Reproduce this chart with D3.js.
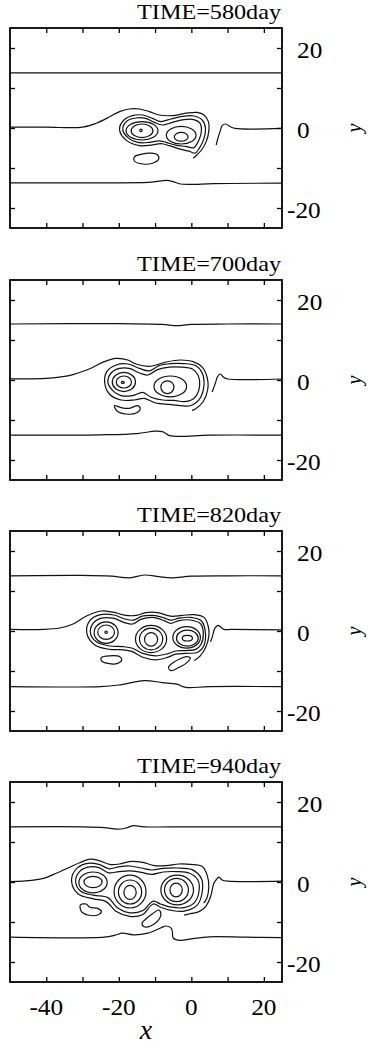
<!DOCTYPE html>
<html>
<head>
<meta charset="utf-8">
<script src="https://cdnjs.cloudflare.com/ajax/libs/d3/7.8.5/d3.min.js"></script>
<style>
body { margin: 0; background: #fff; }
text { font-family: "Liberation Serif", "Times New Roman", serif; fill: #000; }
</style>
</head>
<body>
<div id="chart"></div>
<script>

// axis ticks and labels
var times = ["580", "700", "820", "940"];
var xTicks = [-40, -30, -20, -10, 0, 10, 20];
var xLabels = [-40, -20, 0, 20];
var yTicks = [-20, -10, 0, 10, 20];
var yLabels = [-20, 0, 20];

// ---- TIME=580day ----
var top580 = [[-50,13.8],[25,13.8]];
var bottom580 = [[-50,-13.7],[-25,-13.7],[-12,-13.6],[-9,-13.3],[-7,-13.1],[-5,-13.4],[-3,-14.0],[0,-14.1],[6,-13.9],[25,-13.8]];
var zeroL580 = [[-50,0.2],[-40,0.2],[-30,0.2],[-26.2,1.2],[-22.5,2.8],[-19.8,4.1],[-17.1,4.75],[-14.3,4.75],[-11.6,4.1],[-8.9,3.25],[-5.2,3.1],[-1.5,3.7],[1.6,3.9],[3.5,3.25],[4.7,1.6],[4.8,-0.9],[4.1,-3.4],[2.8,-5.5],[1.2,-7.0],[0.5,-7.6]];
var zeroR580 = [[25,-0.1],[12.1,-0.1],[10.8,0.33],[9.4,1.0],[8.5,0.6],[7.9,-0.9],[7.2,-3.0],[6.85,-4.25]];
var outer580 = [[-19.8,-0.4],[-18.6,2.0],[-16.2,3.1],[-13.4,3.25],[-10.7,2.4],[-8.4,1.6],[-5.7,2.25],[-2.5,2.9],[0.7,3.0],[3.0,2.0],[3.9,-0.1],[3.5,-2.6],[2.3,-4.9],[1.0,-6.3],[-0.6,-5.8],[-3.4,-5.2],[-6.1,-4.4],[-8.4,-3.9],[-11.1,-4.3],[-14.3,-4.4],[-17.9,-3.1]];
var inner580 = [[-18.9,-0.4],[-17.8,1.7],[-15.3,2.5],[-12.6,2.4],[-10.2,1.4],[-8.0,0.75],[-5.2,1.4],[-2.0,2.1],[0.7,2.1],[2.4,1.2],[2.8,-0.5],[2.1,-3.0],[0.7,-4.9],[-1.6,-4.6],[-4.3,-4.3],[-7.0,-3.6],[-8.9,-3.2],[-11.6,-3.6],[-14.8,-3.6],[-17.5,-2.4]];
var blob580 = [[-15.7,-7.2],[-13.9,-6.6],[-11.1,-6.3],[-9.3,-6.75],[-9.0,-7.75],[-10.7,-8.8],[-13.4,-9.0],[-15.7,-8.25]];
// vortex rings: centre x, centre y, radius x, radius y
var rings580 = [[-13.9,-0.6,0.35,0.3],[-13.6,-0.7,3.0,1.7],[-13.6,-0.7,4.4,2.3],[-2.8,-2.2,1.9,1.1],[-2.8,-1.8,4.1,2.2]];

// ---- TIME=700day ----
var top700 = [[-50,14.0],[-20,14.1],[-8,13.9],[-4,13.6],[0,13.9],[10,14.0],[25,14.0]];
var bottom700 = [[-50,-13.8],[-25,-13.7],[-15,-13.4],[-10,-12.8],[-8,-12.9],[-6,-13.9],[-3,-14.1],[5,-13.8],[25,-13.8]];
var zeroL700 = [[-50,0.3],[-40,0.4],[-33.7,1.1],[-28,2.8],[-24,4.6],[-20.8,5.4],[-17.5,5.0],[-15.3,4.0],[-11.6,3.4],[-7.0,4.5],[-3,5.0],[0.5,4.6],[3.0,3.2],[4.4,0.5],[4.5,-2.5],[3.2,-5.5],[1.0,-7.3],[0.2,-7.6]];
var zeroR700 = [[25,0.25],[10,0.25],[9,0.6],[8.0,1.5],[7.2,0.8],[6.7,-0.6],[5.75,-3.0]];
var outer700 = [[-23.9,-0.6],[-23.3,2.1],[-20.7,3.75],[-17.5,4.0],[-14.3,2.9],[-11.6,2.3],[-8.9,3.6],[-5.7,4.1],[-2.0,4.1],[1.2,3.6],[3.0,1.75],[3.5,-1.25],[2.6,-4.3],[1.0,-5.9],[-0.6,-6.5],[-2.9,-6.4],[-6.1,-6.1],[-9.8,-5.75],[-13.0,-4.6],[-15.7,-5.0],[-19.4,-5.0],[-22.6,-3.5]];
var inner700 = [[-23.0,-0.6],[-22.1,1.75],[-19.8,2.9],[-17.1,2.9],[-14.3,1.75],[-12.0,1.25],[-9.3,2.6],[-6.1,3.2],[-2.5,3.2],[0.3,2.75],[1.9,1.1],[2.3,-1.4],[1.4,-3.9],[0.0,-5.0],[-2.0,-5.4],[-4.75,-5.1],[-7.9,-5.0],[-11.1,-4.3],[-13.4,-3.1],[-16.2,-3.9],[-19.4,-3.9],[-21.6,-2.7]];
var blob700 = [[-21.2,-6.4],[-19.4,-6.9],[-17.1,-7.1],[-14.8,-6.4],[-14.1,-7.1],[-15.2,-8.25],[-18.0,-8.5],[-20.5,-7.75]];
var rings700 = [[-18.9,-0.6,0.4,0.25],[-18.6,-0.5,2.1,1.5],[-18.6,-0.5,3.2,2.4],[-6.6,-1.8,1.8,1.6],[-5.8,-1.6,4.5,2.6]];

// ---- TIME=820day ----
var top820 = [[-50,13.8],[-30,13.9],[-22,13.7],[-17,13.3],[-13,14.0],[-9,13.6],[-5.5,13.3],[0,13.7],[10,13.8],[25,13.8]];
var bottom820 = [[-50,-13.9],[-25,-13.9],[-20,-13.5],[-13,-12.4],[-8,-12.9],[-4,-13.3],[-1.5,-14.1],[5,-13.9],[25,-13.9]];
var zeroL820 = [[-50,0.4],[-40.8,0.4],[-36.3,0.75],[-32.6,1.75],[-28.9,3.75],[-24.8,5.0],[-21.6,4.7],[-18.0,3.9],[-15.2,3.9],[-12.5,4.6],[-9.3,4.6],[-5.7,3.7],[-2.5,3.9],[0.7,4.1],[3.5,3.4],[4.7,1.0],[4.8,-1.4],[4.0,-4.0],[2.4,-6.3],[0.8,-7.4]];
var zeroR820 = [[25,0.3],[11,0.4],[9,0.4],[7.4,1.4],[6.5,0.7],[5.8,-1.4],[5.3,-2.7]];
var outer820 = [[-28.8,-0.6],[-28.0,2.6],[-25.0,4.1],[-21.3,4.0],[-18.3,3.0],[-16.0,2.7],[-13.6,3.7],[-10.5,3.9],[-7.5,3.3],[-5.7,2.7],[-3.4,3.2],[-0.2,3.4],[2.8,2.5],[3.9,-0.6],[3.4,-3.8],[1.8,-5.3],[-1.5,-5.6],[-4.3,-5.8],[-6.6,-6.6],[-9.8,-7.2],[-13.6,-6.5],[-16.4,-5.1],[-18.9,-4.7],[-22.5,-4.6],[-26.6,-3.5]];
var inner820 = [[-27.8,-0.6],[-27.1,1.9],[-24.8,3.2],[-21.6,3.2],[-18.4,2.1],[-16.2,1.75],[-13.9,2.9],[-10.7,3.4],[-7.5,2.6],[-5.7,1.9],[-3.4,2.6],[-0.2,2.75],[2.6,1.75],[3.3,-0.6],[2.7,-3.3],[1.2,-4.6],[-1.6,-4.9],[-4.3,-5.0],[-6.6,-5.7],[-9.8,-6.2],[-13.4,-5.6],[-16.2,-4.3],[-18.9,-3.9],[-22.5,-3.75],[-26.2,-2.7]];
var blobL820 = [[-24.8,-6.6],[-22.5,-6.2],[-19.8,-6.4],[-19.2,-7.25],[-20.3,-8.1],[-23.0,-8.1],[-24.8,-7.4]];
var blobR820 = [[-1.3,-6.4],[-0.3,-6.7],[-1.2,-7.9],[-3.6,-9.2],[-5.6,-9.9],[-6.3,-9.1],[-5.0,-7.9],[-3.2,-7.0]];
var rings820 = [[-23.5,-0.3,0.35,0.3],[-23.5,-0.3,2.3,1.8],[-23.5,-0.4,3.3,2.7],[-11.1,-2.1,1.8,1.7],[-11.1,-2.0,3.2,2.7],[-11.1,-2.0,4.3,3.4],[-1.1,-1.8,1.4,0.7],[-1.1,-1.8,3.0,2.0],[-1.3,-1.6,3.8,2.7]];

// ---- TIME=940day ----
var top940 = [[-50,13.8],[-30,13.8],[-24,13.6],[-20.5,13.2],[-18,13.5],[-16,14.1],[-13,13.8],[0,13.8],[25,13.8]];
var bottom940 = [[-50,-13.8],[-24,-13.8],[-21,-13.3],[-19,-12.8],[-16,-13.2],[-12,-12.8],[-8.5,-11.5],[-7,-11.0],[-5.5,-11.6],[-5.2,-12.8],[-5,-14.0],[-3,-14.6],[0,-14.2],[5,-13.7],[15,-13.8],[25,-13.9]];
var zeroL940 = [[-50,0.1],[-44,0.4],[-40.8,0.9],[-37.2,2.2],[-33.5,3.7],[-30.8,4.8],[-28.0,5.7],[-25.3,5.3],[-22.5,4.4],[-19.8,4.5],[-17.1,5.1],[-13.4,4.9],[-10.2,4.1],[-7.0,4.1],[-3.4,4.5],[-0.2,4.4],[3.0,3.9],[4.4,1.6],[4.8,-1.4],[4.3,-4.0],[3.4,-5.3]];
var zeroR940 = [[25,0.2],[10,0.2],[8.5,0.5],[7.6,1.2],[6.8,0.5],[6.2,-0.3],[5.3,-3.7],[3.9,-6.2],[2.1,-7.4],[-0.6,-8.0],[-2.0,-8.3]];
var outer940 = [[-33.0,0.0],[-32.0,3.0],[-29.0,4.6],[-25.5,4.4],[-22.6,3.3],[-20.0,3.8],[-17.0,4.0],[-13.8,3.5],[-10.8,3.0],[-7.8,3.4],[-4.0,3.5],[0.2,3.1],[2.8,0.8],[3.0,-2.5],[1.6,-5.8],[-2.0,-7.3],[-5.5,-7.1],[-8.5,-6.3],[-10.5,-5.5],[-13.5,-8.2],[-17.0,-8.6],[-20.8,-7.3],[-23.5,-4.9],[-27.0,-4.2],[-31.2,-3.0]];
var inner940 = [[-31.9,0.0],[-31.0,2.4],[-28.5,3.7],[-25.5,3.6],[-22.8,2.3],[-20.0,2.6],[-17.0,2.8],[-13.8,2.4],[-10.8,1.9],[-7.8,2.5],[-4.0,2.6],[-0.5,2.2],[1.8,0.5],[2.1,-2.5],[0.8,-5.2],[-2.0,-6.4],[-5.5,-6.3],[-8.5,-5.5],[-10.5,-4.8],[-13.5,-7.2],[-17.0,-7.7],[-20.3,-6.5],[-23.0,-3.9],[-27.0,-3.3],[-30.5,-2.3]];
var blobL940 = [[-30.6,-5.75],[-29.0,-5.5],[-28.0,-6.3],[-25.8,-6.6],[-24.8,-7.4],[-25.8,-8.25],[-28.5,-8.25],[-30.3,-7.4]];
var blobM940 = [[-9.0,-7.0],[-8.4,-8.0],[-9.3,-9.8],[-11.2,-11.0],[-13.0,-11.2],[-13.6,-10.3],[-12.6,-9.3],[-10.8,-8.0]];
var rings940 = [[-27.1,0.0,2.5,1.4],[-27.1,-0.1,3.9,2.6],[-16.9,-2.6,1.7,1.75],[-16.9,-2.5,3.2,3.0],[-16.9,-2.4,4.4,4.1],[-4.2,-2.0,1.7,1.7],[-4.1,-2.0,3.3,2.9],[-3.9,-2.0,4.5,3.7]];

var panels = [
	{time: times[0], lines: [top580, bottom580, zeroL580, zeroR580], closed: [outer580, inner580, blob580], rings: rings580},
	{time: times[1], lines: [top700, bottom700, zeroL700, zeroR700], closed: [outer700, inner700, blob700], rings: rings700},
	{time: times[2], lines: [top820, bottom820, zeroL820, zeroR820], closed: [outer820, inner820, blobL820, blobR820], rings: rings820},
	{time: times[3], lines: [top940, bottom940, zeroL940, zeroR940], closed: [outer940, inner940, blobL940, blobM940], rings: rings940}
];

// layout
var W = 368, H = 1044;
var left = 10, right = 282, ph = 200;
var panelTops = [28, 280, 531, 782];

var svg = d3.select("#chart").append("svg")
	.attr("width", W)
	.attr("height", H);
svg.append("rect").attr("width", W).attr("height", H).attr("fill", "#fff");

var x = d3.scaleLinear().domain([-50, 25]).range([left, right]);

panels.forEach(function(p, i) {
	var top = panelTops[i];
	var y = d3.scaleLinear().domain([-25, 25]).range([top + ph, top]);

	var g = svg.append("g");

	svg.append("clipPath").attr("id", "clip" + i)
		.append("rect").attr("x", left).attr("y", top).attr("width", right - left).attr("height", ph);

	var plot = g.append("g").attr("clip-path", "url(#clip" + i + ")");

	var openLine = d3.line().x(function(d) { return x(d[0]); }).y(function(d) { return y(d[1]); })
		.curve(d3.curveCatmullRom.alpha(0.5));
	var closedLine = d3.line().x(function(d) { return x(d[0]); }).y(function(d) { return y(d[1]); })
		.curve(d3.curveCatmullRomClosed.alpha(0.5));

	plot.selectAll("path.open").data(p.lines).enter().append("path")
		.attr("class", "open")
		.attr("d", openLine)
		.attr("fill", "none").attr("stroke", "#111").attr("stroke-width", 1.2);

	plot.selectAll("path.closed").data(p.closed).enter().append("path")
		.attr("class", "closed")
		.attr("d", closedLine)
		.attr("fill", "none").attr("stroke", "#111").attr("stroke-width", 1.2);

	plot.selectAll("ellipse").data(p.rings).enter().append("ellipse")
		.attr("cx", function(d) { return x(d[0]); })
		.attr("cy", function(d) { return y(d[1]); })
		.attr("rx", function(d) { return x(d[0] + d[2]) - x(d[0]); })
		.attr("ry", function(d) { return y(d[1]) - y(d[1] + d[3]); })
		.attr("fill", "none").attr("stroke", "#111").attr("stroke-width", 1.2);

	// inward ticks on all four sides
	var axes = [
		{ax: d3.axisTop(x).tickValues(xTicks), t: "translate(0," + top + ")"},
		{ax: d3.axisBottom(x).tickValues(xTicks), t: "translate(0," + (top + ph) + ")"},
		{ax: d3.axisLeft(y).tickValues(yTicks), t: "translate(" + left + ",0)"},
		{ax: d3.axisRight(y).tickValues(yTicks), t: "translate(" + right + ",0)"}
	];
	axes.forEach(function(a) {
		var ag = g.append("g").attr("transform", a.t)
			.call(a.ax.tickSize(-5).tickFormat(""));
		ag.select(".domain").remove();
		ag.selectAll("line").attr("stroke", "#000").attr("stroke-width", 1.3);
	});

	g.append("rect")
		.attr("x", left).attr("y", top)
		.attr("width", right - left).attr("height", ph)
		.attr("fill", "none").attr("stroke", "#000").attr("stroke-width", 1.8);

	// title
	g.append("text")
		.attr("transform", "translate(" + (right - 1) + "," + (top - 9) + ") scale(1.1,1)")
		.attr("text-anchor", "end")
		.attr("font-size", 22)
		.text("TIME=" + p.time + "day");

	// y tick labels on the right
	g.selectAll("text.ylab").data(yLabels).enter().append("text")
		.attr("class", "ylab")
		.attr("transform", function(d) {
			var lx = d < 0 ? right + 5 : right + 15;
			return "translate(" + lx + "," + (y(d) + 10) + ") scale(1.1,1)";
		})
		.attr("font-size", 23)
		.text(function(d) { return d; });

	g.append("text")
		.attr("transform", "translate(" + 361 + "," + y(0) + ") rotate(-90)")
		.attr("text-anchor", "middle")
		.attr("font-size", 20)
		.attr("font-style", "italic")
		.text("y");

	if (i === panels.length - 1) {
		g.selectAll("text.xlab").data(xLabels).enter().append("text")
			.attr("class", "xlab")
			.attr("transform", function(d) { return "translate(" + x(d) + "," + (top + ph + 33) + ") scale(1.1,1)"; })
			.attr("text-anchor", "middle")
			.attr("font-size", 23)
			.text(function(d) { return d; });

		g.append("text")
			.attr("x", (left + right) / 2)
			.attr("y", top + ph + 57)
			.attr("text-anchor", "middle")
			.attr("font-size", 28)
			.attr("font-style", "italic")
			.text("x");
	}
});

</script>
</body>
</html>
